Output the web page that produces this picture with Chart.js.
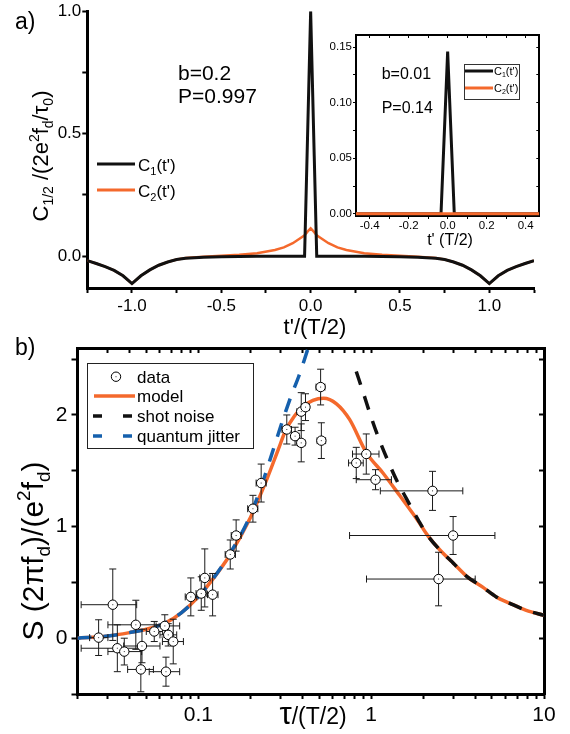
<!DOCTYPE html>
<html lang="en">
<head>
  <meta charset="UTF-8" />
  <title>Current correlations and noise spectrum</title>
  <script src="https://cdn.jsdelivr.net/npm/chart.js"></script>
  <style>
    body { margin: 0; background: #fff; }
    #wrap { position: relative; width: 570px; height: 734px; background: #fff; }
    canvas { position: absolute; }
  </style>
</head>
<body>
  <div id="wrap">
    <canvas id="chartA" width="560" height="340" style="left:0;top:0"></canvas>
    <canvas id="chartInset" width="260" height="255" style="left:300px;top:20px"></canvas>
    <canvas id="chartB" width="570" height="404" style="left:0;top:330px"></canvas>
  </div>

  <script>
    const FONT = "'Liberation Sans', Arial, Helvetica, sans-serif";
    const BLACK = '#111111';
    const ORANGE = '#f4692c';
    const BLUE = '#1560ad';
    Chart.defaults.font.family = FONT;
    Chart.defaults.color = '#000';

    // ---------- panel a : C1 / C2 versus t'/(T/2)
    const tMain = [-1.25, -1.2, -1.15, -1.1, -1.05, -1.0, -0.95, -0.9, -0.85, -0.8, -0.75, -0.7, -0.6, -0.5, -0.4, -0.3,
      -0.2, -0.15, -0.1, -0.05, -0.034, -0.02, 0, 0.02, 0.034, 0.05, 0.1, 0.15, 0.2, 0.3, 0.4, 0.5, 0.6, 0.7, 0.75,
      0.8, 0.85, 0.9, 0.95, 1.0, 1.05, 1.1, 1.15, 1.2, 1.25];
    const c1Main = [-0.018, -0.03, -0.043, -0.058, -0.08, -0.112, -0.08, -0.056, -0.037, -0.024, -0.014, -0.009, -0.004, -0.002, -0.001, 0,
      0, 0, 0, 0, 0, 0.41, 1.0, 0.41, 0, 0, 0, 0, 0, 0, -0.001, -0.002, -0.004, -0.009, -0.014,
      -0.024, -0.037, -0.056, -0.08, -0.112, -0.08, -0.058, -0.043, -0.03, -0.018];
    const c2Main = [-0.018, -0.03, -0.043, -0.058, -0.08, -0.112, -0.08, -0.056, -0.037, -0.024, -0.014, -0.008, -0.002, 0.002, 0.006, 0.012,
      0.025, 0.036, 0.053, 0.077, 0.085, 0.098, 0.114, 0.098, 0.085, 0.077, 0.053, 0.036, 0.025, 0.012, 0.006, 0.002, -0.002, -0.008, -0.014,
      -0.024, -0.037, -0.056, -0.08, -0.112, -0.08, -0.058, -0.043, -0.03, -0.018];
    const xTicksA = [-1.25, -1.0, -0.75, -0.5, -0.25, 0, 0.25, 0.5, 0.75, 1.0, 1.25];
    const xLabelsA = ['', '-1.0', '', '-0.5', '', '0.0', '', '0.5', '', '1.0', ''];
    const yTicksA = [0, 0.25, 0.5, 0.75, 1.0];
    const yLabelsA = ['0.0', '', '0.5', '', '1.0'];

    // ---------- inset : b=0.01
    const tInset = [-0.47, -0.034, 0, 0.034, 0.47];
    const c1Inset = [0, 0, 0.146, 0, 0];
    const c2Inset = [0, 0, 0, 0, 0];
    const xTicksIn = [-0.4, -0.3, -0.2, -0.1, 0, 0.1, 0.2, 0.3, 0.4];
    const xLabelsIn = ['-0.4', '', '-0.2', '', '0.0', '', '0.2', '', '0.4'];
    const yTicksIn = [0, 0.025, 0.05, 0.075, 0.1, 0.125, 0.15];
    const yLabelsIn = ['0.00', '', '0.05', '', '0.10', '', '0.15'];

    // ---------- panel b : noise spectrum
    const tauData = [0.032, 0.0265, 0.0435, 0.064, 0.0556, 0.067, 0.0716, 0.034, 0.0373, 0.0472, 0.0465, 0.065,
      0.0905, 0.104, 0.109, 0.121, 0.153, 0.1655, 0.207, 0.231, 0.325, 0.363, 0.394, 0.394, 0.417, 0.51, 0.515,
      0.82, 0.937, 1.06, 2.265, 2.98, 2.455];
    const sData = [0.30, 0.005, 0.12, 0.11, 0.06, 0.03, -0.03, -0.09, -0.12, -0.07, -0.28, -0.30,
      0.37, 0.40, 0.54, 0.39, 0.75, 0.92, 1.16, 1.39, 1.87, 1.81, 1.75, 2.03, 2.07, 2.25, 1.77,
      1.57, 1.65, 1.42, 1.32, 0.92, 0.53];
    const tauLo = [0.021, 0.0235, 0.030, 0.057, 0.050, 0.060, 0.062, 0.021, 0.030, 0.037, 0.039, 0.052,
      0.084, 0.097, 0.102, 0.113, 0.143, 0.155, 0.193, 0.216, 0.305, 0.345, 0.375, 0.372, 0.395, 0.48, 0.487,
      0.74, 0.78, 0.82, 1.13, 0.75, 0.94];
    const tauHi = [0.044, 0.030, 0.064, 0.078, 0.062, 0.075, 0.082, 0.046, 0.047, 0.060, 0.055, 0.078,
      0.098, 0.112, 0.117, 0.130, 0.164, 0.177, 0.221, 0.247, 0.346, 0.382, 0.414, 0.416, 0.440, 0.54, 0.545,
      0.90, 1.11, 1.31, 3.39, 5.2, 4.0];
    const sErr = [0.32, 0.16, 0.22, 0.10, 0.09, 0.10, 0.20, 0.21, 0.12, 0.15, 0.20, 0.13,
      0.17, 0.15, 0.26, 0.19, 0.13, 0.14, 0.12, 0.17, 0.13, 0.08, 0.17, 0.17, 0.12, 0.16, 0.16,
      0.14, 0.18, 0.09, 0.175, 0.17, 0.24];

    const tauModel = [0.02, 0.03, 0.04, 0.05, 0.065, 0.08, 0.1, 0.12, 0.15, 0.2, 0.25, 0.29, 0.32, 0.36, 0.4, 0.46,
      0.53, 0.63, 0.75, 0.94, 1.17, 1.46, 1.87, 2.1, 2.5, 3.0, 3.6, 4.4, 5.3, 6.4, 7.9, 10];
    const sModel = [0.0, 0.02, 0.05, 0.08, 0.14, 0.23, 0.37, 0.52, 0.73, 1.08, 1.43, 1.69, 1.86, 1.99, 2.07, 2.13,
      2.15, 2.10, 1.96, 1.66, 1.48, 1.28, 1.05, 0.93, 0.79, 0.67, 0.55, 0.46, 0.37, 0.31, 0.25, 0.205];
    const tauShot = [0.82, 0.9, 1.0, 1.1, 1.25, 1.4, 1.6, 1.87, 2.1, 2.5, 3.0, 3.6, 4.4, 5.3, 6.4, 7.9, 10];
    const sShot = [2.39, 2.2, 1.98, 1.8, 1.59, 1.42, 1.25, 1.06, 0.93, 0.79, 0.67, 0.55, 0.46, 0.37, 0.31, 0.25, 0.205];
    const tauJitter = [0.02, 0.03, 0.04, 0.05, 0.065, 0.08, 0.1, 0.12, 0.15, 0.2, 0.23, 0.26, 0.29, 0.32, 0.35, 0.38, 0.41, 0.44];
    const sJitter = [0.0, 0.02, 0.05, 0.08, 0.14, 0.23, 0.37, 0.52, 0.74, 1.1, 1.35, 1.6, 1.83, 2.03, 2.2, 2.34, 2.49, 2.64];

    const xTicksB = [0.02, 0.03, 0.04, 0.05, 0.06, 0.07, 0.08, 0.09, 0.1, 0.2, 0.3, 0.4, 0.5, 0.6, 0.7, 0.8, 0.9,
      1, 2, 3, 4, 5, 6, 7, 8, 9, 10];
    const xLabelsB = ['', '', '', '', '', '', '', '', '0.1', '', '', '', '', '', '', '', '', '1', '', '', '', '', '', '', '', '', '10'];
    const yTicksB = [-0.5, 0, 0.5, 1, 1.5, 2, 2.5];
    const yLabelsB = ['', '0', '', '1', '', '2', ''];

    const pts = (xs, ys) => xs.map((x, i) => ({ x: x, y: ys[i] }));
    const setTicks = vals => s => { s.ticks = vals.map(v => ({ value: v })); };

    // text with sub/superscripts, drawn on the canvas
    function rich(ctx, parts, x, y, size, align, rot) {
      ctx.save();
      ctx.translate(x, y);
      if (rot) ctx.rotate(rot);
      ctx.fillStyle = '#000';
      ctx.textBaseline = 'alphabetic';
      ctx.textAlign = 'left';
      const items = parts.map(p => {
        const kind = p[1] || 'n';
        const sz = p[2] || (kind === 'n' ? size : Math.round(size * 0.64));
        ctx.font = sz + 'px ' + FONT;
        return { t: p[0], kind: kind, sz: sz, w: ctx.measureText(p[0]).width };
      });
      const total = items.reduce((a, b) => a + b.w, 0);
      let cx = align === 'center' ? -total / 2 : 0;
      items.forEach(it => {
        ctx.font = it.sz + 'px ' + FONT;
        const dy = it.kind === 'sub' ? size * 0.22 : it.kind === 'sup' ? -size * 0.42 : 0;
        ctx.fillText(it.t, cx, dy);
        cx += it.w;
      });
      ctx.restore();
    }

    function sample(ctx, x1, x2, y, color, width, dash) {
      ctx.save();
      ctx.strokeStyle = color;
      ctx.lineWidth = width;
      ctx.setLineDash(dash || []);
      ctx.beginPath();
      ctx.moveTo(x1, y);
      ctx.lineTo(x2, y);
      ctx.stroke();
      ctx.restore();
    }

    const common = {
      responsive: false,
      animation: false,
      events: [],
      plugins: { legend: { display: false }, tooltip: { enabled: false } }
    };

    // ================= panel a =================
    new Chart(document.getElementById('chartA'), {
      type: 'line',
      data: {
        datasets: [
          { data: pts(tMain, c1Main), borderColor: BLACK, borderWidth: 3, pointRadius: 0, tension: 0 },
          { data: pts(tMain, c2Main), borderColor: ORANGE, borderWidth: 2.5, pointRadius: 0, tension: 0 }
        ]
      },
      options: {
        ...common,
        layout: { padding: { top: 8, right: 26, left: 0, bottom: 0 } },
        scales: {
          x: {
            type: 'linear', min: -1.25, max: 1.25,
            afterBuildTicks: setTicks(xTicksA),
            afterFit: s => { s.height = 52; },
            border: { display: true, color: '#000', width: 3 },
            grid: { drawOnChartArea: false, drawTicks: true, tickLength: 5, tickColor: '#000', tickWidth: 2 },
            ticks: { autoSkip: false, maxRotation: 0, padding: 3, font: { size: 17 }, callback: (v, i) => xLabelsA[i] }
          },
          y: {
            type: 'linear', min: -0.13, max: 1.0,
            afterBuildTicks: setTicks(yTicksA),
            afterFit: s => { s.width = 87.3; },
            border: { display: true, color: '#000', width: 3 },
            grid: { drawOnChartArea: false, drawTicks: true, tickLength: 5, tickColor: '#000', tickWidth: 2 },
            ticks: { autoSkip: false, padding: 1, font: { size: 17 }, callback: (v, i) => yLabelsA[i] }
          }
        }
      },
      plugins: [{
        id: 'decorA',
        afterDraw(chart) {
          const ctx = chart.ctx;
          rich(ctx, [['a)']], 15, 29, 23);
          rich(ctx, [['b=0.2']], 178, 80, 21);
          rich(ctx, [['P=0.997']], 178, 103, 21);
          rich(ctx, [['C'], ['1/2', 'sub'], [' /(2e'], ['2', 'sup'], ['f'], ['d', 'sub'], ['/\u03c4'], ['0', 'sub'], [')']],
            48, 156, 22, 'center', -Math.PI / 2);
          rich(ctx, [["t'/(T/2)"]], 315, 334, 22, 'center');
          sample(ctx, 97, 135, 164, BLACK, 3);
          rich(ctx, [['C'], ['1', 'sub'], ["(t')"]], 138, 171, 17);
          sample(ctx, 97, 135, 190, ORANGE, 3);
          rich(ctx, [['C'], ['2', 'sub'], ["(t')"]], 138, 197, 17);
        }
      }]
    });

    // ================= inset =================
    const inAxis = (pos, extra) => Object.assign({
      display: true,
      border: { display: true, color: '#000', width: 2 },
      grid: { drawOnChartArea: false, drawTicks: true, tickLength: -3, tickColor: '#000', tickWidth: 1 },
      ticks: { display: false }
    }, extra);

    new Chart(document.getElementById('chartInset'), {
      type: 'line',
      data: {
        datasets: [
          { data: pts(tInset, c2Inset), borderColor: ORANGE, borderWidth: 3, pointRadius: 0, tension: 0 },
          { data: pts(tInset, c1Inset), borderColor: BLACK, borderWidth: 3, pointRadius: 0, tension: 0 }
        ]
      },
      options: {
        ...common,
        layout: { padding: { top: 15, right: 20.7, left: 0, bottom: 0 } },
        scales: {
          x: {
            type: 'linear', min: -0.47, max: 0.47,
            afterBuildTicks: setTicks(xTicksIn),
            afterFit: s => { s.height = 59; },
            border: { display: true, color: '#000', width: 2 },
            grid: { drawOnChartArea: false, drawTicks: true, tickLength: 3, tickColor: '#000', tickWidth: 1 },
            ticks: { autoSkip: false, maxRotation: 0, padding: 0, font: { size: 11.5 }, callback: (v, i) => xLabelsIn[i] }
          },
          y: {
            type: 'linear', min: -0.002, max: 0.161,
            afterBuildTicks: setTicks(yTicksIn),
            afterFit: s => { s.width = 56; },
            border: { display: true, color: '#000', width: 2 },
            grid: { drawOnChartArea: false, drawTicks: true, tickLength: 3, tickColor: '#000', tickWidth: 1 },
            ticks: { autoSkip: false, padding: 1, font: { size: 11.5 }, callback: (v, i) => yLabelsIn[i] }
          },
          x2: inAxis('top', {
            type: 'linear', position: 'top', min: -0.47, max: 0.47,
            afterBuildTicks: setTicks(xTicksIn), afterFit: s => { s.height = 0; }
          }),
          y2: inAxis('right', {
            type: 'linear', position: 'right', min: -0.002, max: 0.161,
            afterBuildTicks: setTicks(yTicksIn), afterFit: s => { s.width = 0; }
          })
        }
      },
      plugins: [{
        id: 'decorInset',
        beforeDraw(chart) {
          const a = chart.chartArea, ctx = chart.ctx;
          ctx.save();
          ctx.fillStyle = '#fff';
          ctx.fillRect(a.left, a.top, a.right - a.left, a.bottom - a.top);
          ctx.restore();
        },
        afterDraw(chart) {
          const ctx = chart.ctx;
          rich(ctx, [['b=0.01']], 81.7, 59, 16);
          rich(ctx, [['P=0.14']], 81.7, 93, 16);
          rich(ctx, [["t' (T/2)"]], 150, 225, 16, 'center');
          ctx.save();
          ctx.strokeStyle = '#333';
          ctx.lineWidth = 1;
          ctx.strokeRect(164.5, 44.5, 55, 35);
          ctx.restore();
          sample(ctx, 165, 193, 51, BLACK, 3);
          rich(ctx, [['C'], ['1', 'sub'], ["(t')"]], 194, 55, 11);
          sample(ctx, 165, 193, 68, ORANGE, 3);
          rich(ctx, [['C'], ['2', 'sub'], ["(t')"]], 194, 72, 11);
        }
      }]
    });

    // ================= panel b =================
    const errorBars = {
      id: 'errorBars',
      beforeDatasetDraw(chart, args) {
        const ds = chart.data.datasets[args.index];
        if (!ds.errors) return;
        const xs = chart.scales.x, ys = chart.scales.y, ctx = chart.ctx;
        ctx.save();
        ctx.strokeStyle = '#1a1a1a';
        ctx.lineWidth = 1;
        ds.data.forEach((p, i) => {
          const px = xs.getPixelForValue(p.x), py = ys.getPixelForValue(p.y);
          const xl = xs.getPixelForValue(ds.errors.lo[i]), xh = xs.getPixelForValue(ds.errors.hi[i]);
          const yl = ys.getPixelForValue(p.y - ds.errors.dy[i]), yh = ys.getPixelForValue(p.y + ds.errors.dy[i]);
          ctx.beginPath();
          ctx.moveTo(xl, py); ctx.lineTo(xh, py);
          ctx.moveTo(xl, py - 3.5); ctx.lineTo(xl, py + 3.5);
          ctx.moveTo(xh, py - 3.5); ctx.lineTo(xh, py + 3.5);
          ctx.moveTo(px, yl); ctx.lineTo(px, yh);
          ctx.moveTo(px - 3.5, yl); ctx.lineTo(px + 3.5, yl);
          ctx.moveTo(px - 3.5, yh); ctx.lineTo(px + 3.5, yh);
          ctx.stroke();
        });
        ctx.restore();
      },
      afterDatasetDraw(chart, args) {
        const ds = chart.data.datasets[args.index];
        if (!ds.errors) return;
        const ctx = chart.ctx;
        ctx.save();
        ctx.fillStyle = '#333';
        chart.getDatasetMeta(args.index).data.forEach(el => {
          ctx.fillRect(el.x - 0.5, el.y - 0.5, 1, 1);
        });
        ctx.restore();
      }
    };

    const frameAxis = extra => Object.assign({
      border: { display: true, color: '#000', width: 3 },
      grid: { drawOnChartArea: false, drawTicks: true, tickLength: -5, tickColor: '#000', tickWidth: 2 },
      ticks: { display: false }
    }, extra);

    new Chart(document.getElementById('chartB'), {
      type: 'line',
      data: {
        datasets: [
          {
            label: 'data', data: pts(tauData, sData), showLine: false,
            pointRadius: 4.7, pointBackgroundColor: '#fff', pointBorderColor: '#000', pointBorderWidth: 1,
            errors: { lo: tauLo, hi: tauHi, dy: sErr }
          },
          { label: 'quantum jitter', data: pts(tauJitter, sJitter), borderColor: BLUE, borderWidth: 3.5, borderDash: [14, 12], pointRadius: 0, cubicInterpolationMode: 'monotone' },
          { label: 'shot noise', data: pts(tauShot, sShot), borderColor: BLACK, borderWidth: 3.5, borderDash: [14, 12], pointRadius: 0, cubicInterpolationMode: 'monotone' },
          { label: 'model', data: pts(tauModel, sModel), borderColor: ORANGE, borderWidth: 3.5, pointRadius: 0, cubicInterpolationMode: 'monotone' }
        ]
      },
      options: {
        ...common,
        layout: { padding: { top: 18, right: 26, left: 0, bottom: 0 } },
        scales: {
          x: {
            type: 'logarithmic', min: 0.02, max: 10,
            afterBuildTicks: setTicks(xTicksB),
            afterFit: s => { s.height = 40; },
            border: { display: true, color: '#000', width: 3 },
            grid: { drawOnChartArea: false, drawTicks: true, tickLength: 5, tickColor: '#000', tickWidth: 2 },
            ticks: { autoSkip: false, maxRotation: 0, padding: 4, font: { size: 21 }, callback: (v, i) => xLabelsB[i] }
          },
          y: {
            type: 'linear', min: -0.5, max: 2.6,
            afterBuildTicks: setTicks(yTicksB),
            afterFit: s => { s.width = 77.5; },
            border: { display: true, color: '#000', width: 3 },
            grid: { drawOnChartArea: false, drawTicks: true, tickLength: 6, tickColor: '#000', tickWidth: 2 },
            ticks: { autoSkip: false, padding: 4, font: { size: 21 }, callback: (v, i) => yLabelsB[i] }
          },
          x2: frameAxis({
            type: 'logarithmic', position: 'top', min: 0.02, max: 10,
            afterBuildTicks: setTicks(xTicksB), afterFit: s => { s.height = 0; }
          }),
          y2: frameAxis({
            type: 'linear', position: 'right', min: -0.5, max: 2.6,
            afterBuildTicks: setTicks(yTicksB), afterFit: s => { s.width = 0; }
          })
        }
      },
      plugins: [errorBars, {
        id: 'decorB',
        afterDraw(chart) {
          const ctx = chart.ctx;
          rich(ctx, [['b)']], 15, 25, 23);
          rich(ctx, [['S (2\u03c0f'], ['d', 'sub'], [')/(e'], ['2', 'sup'], ['f'], ['d', 'sub'], [')']],
            43, 221, 30, 'center', -Math.PI / 2);
          rich(ctx, [['\u03c4', 'n', 31], ['/(T/2)', 'n', 23]], 313, 394, 23, 'center');
          // legend
          ctx.save();
          ctx.strokeStyle = '#222';
          ctx.lineWidth = 1;
          ctx.strokeRect(87.5, 33.5, 166, 85);
          ctx.beginPath();
          ctx.arc(116, 46.7, 4.7, 0, Math.PI * 2);
          ctx.fillStyle = '#fff';
          ctx.fill();
          ctx.strokeStyle = '#000';
          ctx.stroke();
          ctx.fillStyle = '#333';
          ctx.fillRect(115.5, 46.2, 1, 1);
          ctx.restore();
          sample(ctx, 94, 135, 66, ORANGE, 3.5);
          sample(ctx, 93, 135, 86, BLACK, 3.5, [9, 21]);
          sample(ctx, 93, 135, 106, BLUE, 3.5, [9, 21]);
          rich(ctx, [['data']], 137, 53, 17);
          rich(ctx, [['model']], 137, 72, 17);
          rich(ctx, [['shot noise']], 137, 92, 17);
          rich(ctx, [['quantum jitter']], 137, 112, 17);
        }
      }]
    });
  </script>
</body>
</html>
